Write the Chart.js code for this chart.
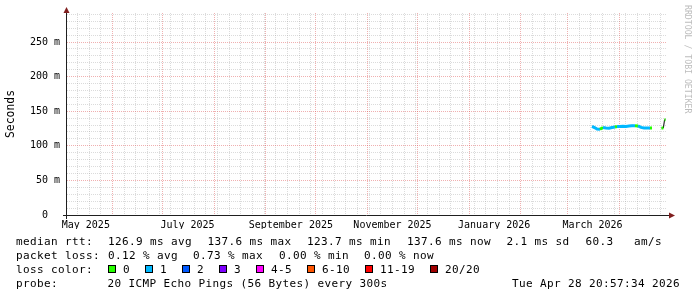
<!DOCTYPE html>
<html>
<head>
<meta charset="utf-8">
<title>median rtt - last 360 days</title>
<script src="https://cdn.jsdelivr.net/npm/chart.js@4.4.1/dist/chart.umd.min.js"></script>
<style>
    html, body { margin: 0; padding: 0; background: #fff; }
    #wrap { position: relative; width: 697px; height: 297px; overflow: hidden; background: #fff; }
    #chart { position: absolute; left: 0; top: 0; }
    .txt { position: absolute; font-family: "DejaVu Sans Mono", monospace; font-size: 11px; letter-spacing: 0.38px; line-height: 14px; color: #000; white-space: pre; }
    .box { position: absolute; width: 6px; height: 6px; border: 1px solid #000; }
    #watermark { position: absolute; left: 684px; top: 5px; writing-mode: vertical-rl; font-family: "DejaVu Sans Mono", monospace; font-size: 8.2px; line-height: 8px; color: #bdbdbd; white-space: pre; }
</style>
</head>
<body>
<div id="wrap">
    <canvas id="chart" width="697" height="297"></canvas>
    <div id="legend"></div>
    <div id="watermark">RRDTOOL / TOBI OETIKER</div>
</div>
<script>
// Rango del gráfico (360 días)
const startTime = '2025-05-04T16:48';
const endTime = '2026-04-29T16:48';

// Muestras de la mediana (ms) y pérdida (pings perdidos de 20)
const sampleTimes = [
    '2026-03-15T16:48', '2026-03-17T12:00', '2026-03-18T16:48', '2026-03-20T12:00',
    '2026-03-22T07:12', '2026-03-24T02:24', '2026-03-25T21:36', '2026-03-27T16:48',
    '2026-03-29T12:00', '2026-03-30T16:48', '2026-04-01T12:00', '2026-04-03T07:12',
    '2026-04-05T02:24', '2026-04-06T21:36', '2026-04-08T16:48', '2026-04-10T12:00',
    '2026-04-12T07:12', '2026-04-14T02:24', '2026-04-15T21:36', '2026-04-17T16:48',
    '2026-04-19T12:00', '2026-04-20T16:48', '2026-04-24T00:00', '2026-04-26T09:36',
    '2026-04-27T13:12', '2026-04-28T04:48', '2026-04-28T19:12'
];
const medianRtt = [
    128.1, 126.0, 124.2, 124.0,
    126.5, 125.8, 125.5, 126.4,
    127.3, 128.0, 127.8, 128.2,
    128.0, 128.6, 128.9, 129.0,
    128.7, 126.6, 125.9, 125.7,
    125.8, 125.8, null, 125.9,
    125.8, 137.6, 137.6
];
const lossCount = [
    1, 1, 1, 1,
    0, 1, 1, 1,
    1, 0, 1, 1,
    1, 1, 1, 1,
    0, 1, 1, 1,
    1, 0, null, 0,
    0, 0, 0
];
const smokeLow = [
    127.2, 125.2, 123.6, 123.5,
    125.7, 125.0, 124.7, 125.6,
    126.5, 127.2, 127.0, 127.4,
    127.2, 127.8, 128.1, 128.2,
    127.9, 125.8, 125.1, 124.9,
    125.0, 125.0, null, 125.1,
    125.0, 137.0, 137.0
];
const smokeHigh = [
    130.2, 127.6, 125.6, 125.4,
    127.6, 127.0, 126.7, 127.6,
    128.5, 129.2, 129.0, 129.4,
    129.2, 130.0, 130.8, 130.2,
    129.8, 127.8, 127.0, 126.8,
    126.9, 126.9, null, 127.0,
    126.9, 138.4, 138.4
];

// Etiquetas de los ejes
const monthLabelDates = ['2025-05-16T00:00', '2025-07-16T00:00', '2025-09-16T00:00', '2025-11-16T00:00', '2026-01-16T00:00', '2026-03-16T00:00'];
const monthLabels = ['May 2025', 'July 2025', 'September 2025', 'November 2025', 'January 2026', 'March 2026'];
const yTickValues = [0, 50, 100, 150, 200, 250];
const yTickLabels = ['0  ', '50 m', '100 m', '150 m', '200 m', '250 m'];

// Leyenda
const rttStats = ['median rtt:', '126.9 ms avg', '137.6 ms max', '123.7 ms min', '137.6 ms now', '2.1 ms sd', '60.3', 'am/s'];
const lossStats = ['packet loss:', '0.12 % avg', '0.73 % max', '0.00 % min', '0.00 % now'];
const lossBuckets = ['0', '1', '2', '3', '4-5', '6-10', '11-19', '20/20'];
const lossBucketColors = ['#26ff00', '#00b8ff', '#0059ff', '#7e00ff', '#ff00ff', '#ff5500', '#ff0000', '#a00000'];
const probeText = '20 ICMP Echo Pings (56 Bytes) every 300s';
const stampText = 'Tue Apr 28 20:57:34 2026';

const GRID_MINOR = 'rgba(143, 143, 143, 0.32)';
const GRID_MAJOR = 'rgba(222, 79, 79, 0.45)';

function toMs(s) {
    return new Date(s).getTime();
}

function bucketOf(n) {
    if (n <= 3) return n;
    if (n <= 5) return 4;
    if (n <= 10) return 5;
    if (n <= 19) return 6;
    return 7;
}

function points(values) {
    return sampleTimes.map((t, i) => ({ x: toMs(t), y: values[i] }));
}

// Rejilla del eje X: semanas (domingo), meses y posiciones de etiquetas
function buildTimeTicks() {
    const start = toMs(startTime);
    const end = toMs(endTime);
    const ticks = [];
    const monthStarts = new Set();

    const m = new Date(start);
    let month = new Date(m.getFullYear(), m.getMonth() + 1, 1);
    while (month.getTime() <= end) {
        ticks.push({ value: month.getTime(), kind: 'major' });
        monthStarts.add(month.getTime());
        month = new Date(month.getFullYear(), month.getMonth() + 1, 1);
    }

    const d = new Date(start);
    let week = new Date(d.getFullYear(), d.getMonth(), d.getDate() + ((7 - d.getDay()) % 7 || 7));
    while (week.getTime() <= end) {
        if (!monthStarts.has(week.getTime())) {
            ticks.push({ value: week.getTime(), kind: 'minor' });
        }
        week = new Date(week.getFullYear(), week.getMonth(), week.getDate() + 7);
    }

    monthLabelDates.forEach((s, i) => {
        ticks.push({ value: toMs(s), kind: 'label', text: monthLabels[i] });
    });

    ticks.sort((a, b) => a.value - b.value);
    return ticks;
}

function buildValueTicks() {
    const ticks = [];
    for (let v = 0; v <= 290; v += 10) {
        ticks.push({ value: v });
    }
    return ticks;
}

// Ejes con flecha al estilo rrdtool
const rrdAxes = {
    id: 'rrdAxes',
    afterDraw(chart) {
        const { ctx, chartArea: a } = chart;
        const yb = a.bottom + 0.5;
        const xl = a.left - 0.5;
        ctx.save();
        ctx.strokeStyle = '#1f1f1f';
        ctx.lineWidth = 1;
        ctx.beginPath();
        ctx.moveTo(a.left - 4, yb);
        ctx.lineTo(a.right + 3, yb);
        ctx.moveTo(xl, a.bottom + 4);
        ctx.lineTo(xl, a.top - 3);
        ctx.stroke();

        ctx.fillStyle = '#801f1f';
        ctx.beginPath();
        ctx.moveTo(a.right + 2, yb - 3);
        ctx.lineTo(a.right + 8, yb);
        ctx.lineTo(a.right + 2, yb + 3);
        ctx.closePath();
        ctx.fill();

        ctx.beginPath();
        ctx.moveTo(xl - 3, a.top);
        ctx.lineTo(xl, a.top - 6);
        ctx.lineTo(xl + 3, a.top);
        ctx.closePath();
        ctx.fill();
        ctx.restore();
    }
};

function initializeChart() {
    const ctx = document.getElementById('chart');
    const monoFont = { family: '"DejaVu Sans Mono", monospace', size: 10 };

    new Chart(ctx, {
        type: 'line',
        data: {
            datasets: [{
                label: 'median rtt (loss color)',
                data: points(medianRtt),
                borderColor: lossBucketColors[1],
                borderWidth: 3,
                pointRadius: 0,
                tension: 0,
                segment: {
                    borderColor: function(c) {
                        // saltos bruscos: solo queda visible la línea negra fina
                        if (Math.abs(c.p1.parsed.y - c.p0.parsed.y) > 5) return 'transparent';
                        return lossBucketColors[bucketOf(lossCount[c.p1DataIndex])];
                    }
                }
            }, {
                label: 'median rtt',
                data: points(medianRtt),
                borderColor: '#000000',
                borderWidth: 1,
                pointRadius: 0,
                tension: 0
            }, {
                label: 'smoke high',
                data: points(smokeHigh),
                borderWidth: 0,
                borderColor: 'transparent',
                backgroundColor: 'rgba(150, 150, 150, 0.3)',
                pointRadius: 0,
                fill: '+1'
            }, {
                label: 'smoke low',
                data: points(smokeLow),
                borderWidth: 0,
                borderColor: 'transparent',
                pointRadius: 0,
                fill: false
            }]
        },
        options: {
            responsive: false,
            animation: false,
            events: [],
            layout: { padding: { left: 0, right: 30, top: 13, bottom: 68 } },
            plugins: {
                legend: { display: false },
                tooltip: { enabled: false }
            },
            scales: {
                x: {
                    type: 'linear',
                    min: toMs(startTime),
                    max: toMs(endTime),
                    afterBuildTicks: function(scale) { scale.ticks = buildTimeTicks(); },
                    afterFit: function(scale) { scale.height = 14; },
                    grid: {
                        drawTicks: false,
                        lineWidth: 1,
                        color: function(c) {
                            if (!c.tick) return GRID_MINOR;
                            if (c.tick.kind === 'label') return 'transparent';
                            return c.tick.kind === 'major' ? GRID_MAJOR : GRID_MINOR;
                        }
                    },
                    border: { display: false, dash: [1, 1] },
                    ticks: {
                        autoSkip: false,
                        maxRotation: 0,
                        padding: 4,
                        color: '#000',
                        font: monoFont,
                        callback: function(value, index, ticks) { return ticks[index].text || ''; }
                    }
                },
                y: {
                    min: 0,
                    max: 292,
                    afterBuildTicks: function(scale) { scale.ticks = buildValueTicks(); },
                    afterFit: function(scale) { scale.width = 67; },
                    grid: {
                        drawTicks: false,
                        lineWidth: 1,
                        color: function(c) {
                            if (!c.tick) return GRID_MINOR;
                            return c.tick.value % 50 === 0 ? GRID_MAJOR : GRID_MINOR;
                        }
                    },
                    border: { display: false, dash: [1, 1] },
                    title: {
                        display: true,
                        text: 'Seconds',
                        color: '#000',
                        font: { family: '"DejaVu Sans Mono", monospace', size: 11.4 },
                        padding: { top: 4, bottom: 0 }
                    },
                    ticks: {
                        autoSkip: false,
                        padding: 7,
                        color: '#000',
                        font: monoFont,
                        callback: function(value) {
                            const i = yTickValues.indexOf(value);
                            return i >= 0 ? yTickLabels[i] : '';
                        }
                    }
                }
            }
        },
        plugins: [rrdAxes]
    });
}

// Leyenda de texto bajo el gráfico
function addText(text, left, top) {
    const el = document.createElement('div');
    el.className = 'txt';
    el.textContent = text;
    el.style.left = left + 'px';
    el.style.top = top + 'px';
    document.getElementById('legend').appendChild(el);
    return el;
}

function buildLegend() {
    const rttX = [16, 108, 207.5, 307, 407, 506.5, 585.5, 634];
    rttStats.forEach((t, i) => addText(t, rttX[i], 235));

    const lossX = [16, 108, 193, 279, 364];
    lossStats.forEach((t, i) => addText(t, lossX[i], 249));

    addText('loss color:', 16, 263);
    const boxX = [108, 145, 182, 219, 256, 307, 365, 430];
    lossBuckets.forEach((label, i) => {
        const box = document.createElement('div');
        box.className = 'box';
        box.style.left = boxX[i] + 'px';
        box.style.top = '265px';
        box.style.background = lossBucketColors[i];
        document.getElementById('legend').appendChild(box);
        addText(label, boxX[i] + 15, 263);
    });

    addText('probe:', 16, 277);
    addText(probeText, 107.5, 277);
    const stamp = addText(stampText, 0, 277);
    stamp.style.left = 'auto';
    stamp.style.right = '17px';
}

document.addEventListener('DOMContentLoaded', function() {
    initializeChart();
    buildLegend();
});
</script>
</body>
</html>
